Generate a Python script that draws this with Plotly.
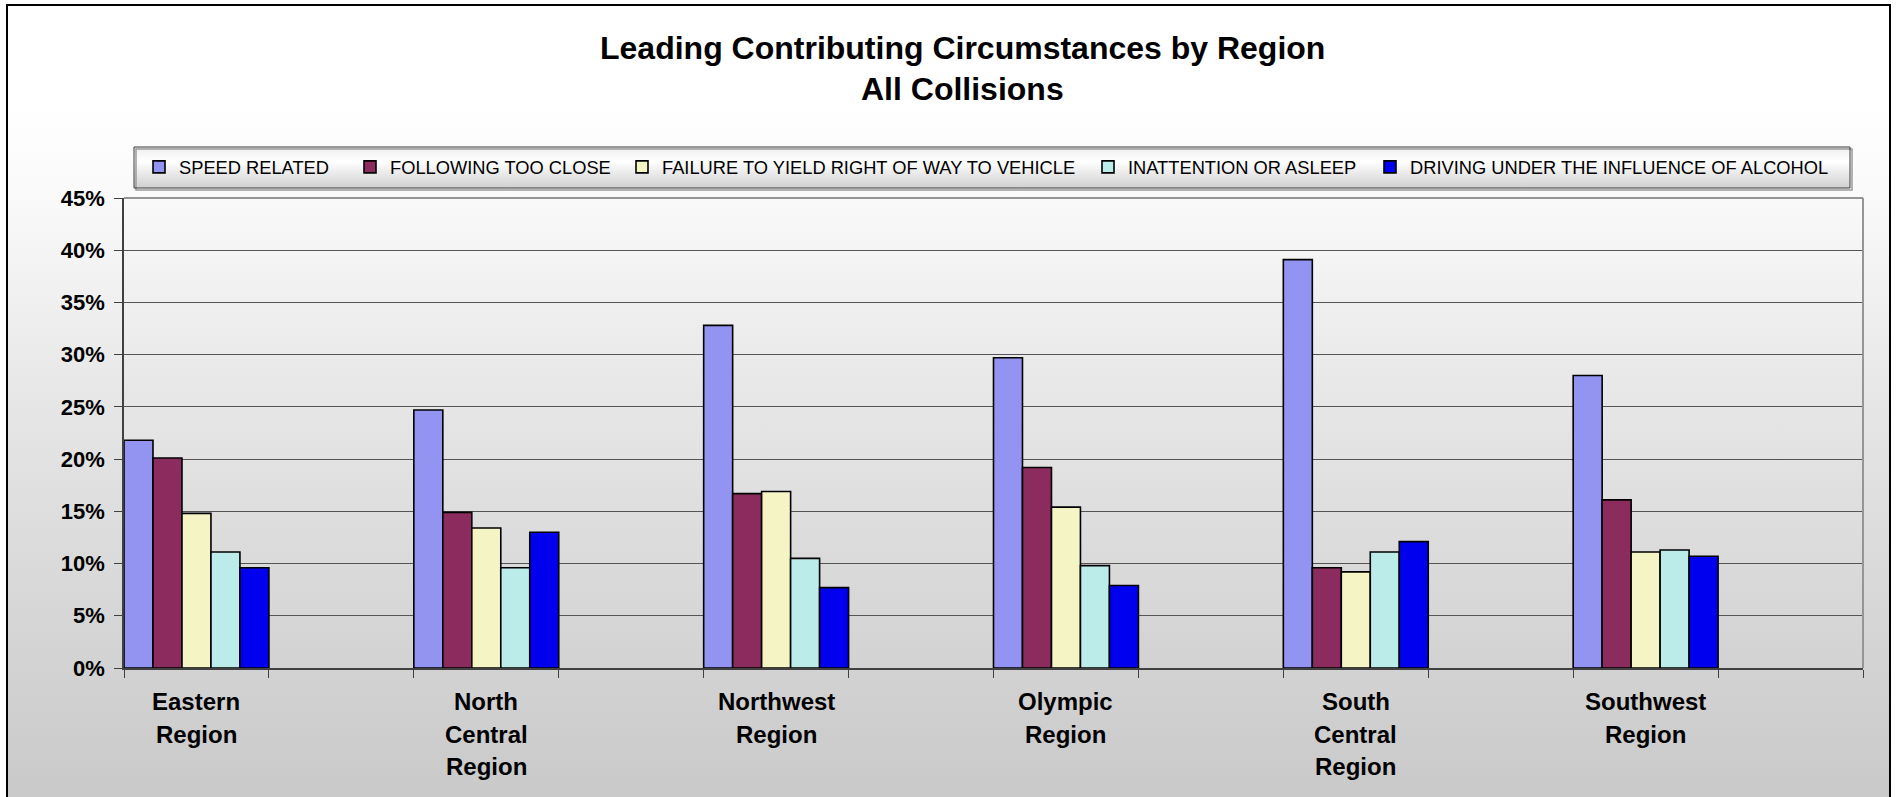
import base64
import plotly.graph_objects as go

# ---------------- data ----------------
region_labels = ["Eastern<br>Region", "North<br>Central<br>Region", "Northwest<br>Region",
                 "Olympic<br>Region", "South<br>Central<br>Region", "Southwest<br>Region"]
series_names = ["SPEED RELATED", "FOLLOWING TOO CLOSE", "FAILURE TO YIELD RIGHT OF WAY TO VEHICLE",
                "INATTENTION OR ASLEEP", "DRIVING UNDER THE INFLUENCE OF ALCOHOL"]
speed_related = [21.8, 24.7, 32.8, 29.7, 39.1, 28.0]
following_too_close = [20.1, 14.9, 16.7, 19.2, 9.6, 16.1]
failure_to_yield = [14.8, 13.4, 16.9, 15.4, 9.2, 11.1]
inattention_asleep = [11.1, 9.6, 10.5, 9.8, 11.1, 11.3]
dui_alcohol = [9.6, 13.0, 7.7, 7.9, 12.1, 10.7]
y_ticks = [0, 5, 10, 15, 20, 25, 30, 35, 40, 45]
y_tick_labels = ["0%", "5%", "10%", "15%", "20%", "25%", "30%", "35%", "40%", "45%"]

series_values = [speed_related, following_too_close, failure_to_yield, inattention_asleep, dui_alcohol]
colors = ["#9393f2", "#8c2c5e", "#f4f4c4", "#bcecea", "#0000ee"]

# ---------------- geometry helpers ----------------
W, H = 1896, 797
L, R, T, B = 124, 33, 198, 129
PW, PH = W - L - R, H - T - B


def px_x(p):
    return (p - L) / PW


def px_y(p):
    return (H - B - p) / PH


def svg_uri(svg):
    return "data:image/svg+xml;base64," + base64.b64encode(svg.encode()).decode()


bg_svg = """<svg xmlns='http://www.w3.org/2000/svg' width='100' height='100' preserveAspectRatio='none'>
<defs><linearGradient id='g' x1='0' y1='0' x2='0' y2='1'>
<stop offset='0' stop-color='#ffffff'/><stop offset='0.12' stop-color='#ffffff'/>
<stop offset='0.25' stop-color='#f9f9f9'/><stop offset='0.5' stop-color='#e6e6e6'/>
<stop offset='0.84' stop-color='#d2d2d2'/><stop offset='1' stop-color='#c9c9c9'/>
</linearGradient></defs><rect width='100' height='100' fill='url(#g)'/></svg>"""

leg_svg = """<svg xmlns='http://www.w3.org/2000/svg' width='100' height='100' preserveAspectRatio='none'>
<defs><linearGradient id='g' x1='0' y1='0' x2='0' y2='1'>
<stop offset='0' stop-color='#eeeeee'/><stop offset='0.35' stop-color='#ffffff'/>
<stop offset='1' stop-color='#d0d0d0'/>
</linearGradient></defs><rect width='100' height='100' fill='url(#g)'/></svg>"""

fig = go.Figure()

x_pos = [2 * i for i in range(len(region_labels))]
legend_ids = ["legend", "legend2", "legend3", "legend4", "legend5"]
for name, vals, col, lg in zip(series_names, series_values, colors, legend_ids):
    fig.add_trace(go.Bar(
        x=x_pos, y=vals, name=name, legend=lg,
        marker=dict(color=col, line=dict(color="#000000", width=1.6)),
    ))

font_family = "Arial, Liberation Sans, sans-serif"

# legend placement (item left edges in pixels)
legend_sym_left = [158, 369, 641, 1107, 1389]
legend_layouts = {}
for lg, sx in zip(legend_ids, legend_sym_left):
    legend_layouts[lg] = dict(
        x=px_x(sx - 19), y=px_y(167), xanchor="left", yanchor="middle",
        orientation="h", bgcolor="rgba(0,0,0,0)", borderwidth=0,
        font=dict(family=font_family, size=18.3, color="#000000"),
        itemclick=False, itemdoubleclick=False,
    )

# category labels, one annotation per text line
annotations = [
    dict(text="<b>Leading Contributing Circumstances by Region</b>", xref="paper", yref="paper",
         x=px_x(962), y=px_y(47.5), xanchor="center", yanchor="middle", showarrow=False,
         font=dict(family=font_family, size=32, color="#000000")),
    dict(text="<b>All Collisions</b>", xref="paper", yref="paper",
         x=px_x(962), y=px_y(89), xanchor="center", yanchor="middle", showarrow=False,
         font=dict(family=font_family, size=32, color="#000000")),
]
for xp, lab in zip(x_pos, region_labels):
    for j, line in enumerate(lab.split("<br>")):
        annotations.append(dict(
            text="<b>" + line + "</b>", xref="x", yref="paper", x=xp, y=px_y(701.5 + 32.5 * j),
            xanchor="center", yanchor="middle", showarrow=False,
            font=dict(family=font_family, size=24, color="#000000")))

fig.update_layout(
    width=W, height=H,
    margin=dict(l=L, r=R, t=T, b=B, pad=0),
    paper_bgcolor="#ffffff",
    plot_bgcolor="rgba(0,0,0,0)",
    barmode="group", bargap=0.5, bargroupgap=0,
    showlegend=True,
    **legend_layouts,
    xaxis=dict(
        range=[-0.5, 11.5], tickmode="array", tickvals=x_pos, showticklabels=False,
        ticks="", showgrid=False, zeroline=False,
        showline=True, linecolor="#404040", linewidth=1.5,
        minor=dict(tick0=-0.5, dtick=1, ticks="outside", ticklen=8, tickcolor="#404040",
                   tickwidth=1, showgrid=False),
    ),
    yaxis=dict(
        range=[0, 45], tickmode="array", tickvals=y_ticks, ticktext=y_tick_labels,
        ticks="outside", ticklen=8, tickcolor="#404040", tickwidth=1,
        showgrid=True, gridcolor="#555555", gridwidth=1, zeroline=False,
        showline=True, linecolor="#404040", linewidth=1.5,
        tickfont=dict(family=font_family, size=22, color="#000000", weight="bold"),
        ticklabelstandoff=5,
    ),
    images=[
        dict(source=svg_uri(bg_svg), xref="paper", yref="paper",
             x=px_x(7), y=px_y(5), sizex=(1890 - 7) / PW, sizey=(800 - 5) / PH,
             xanchor="left", yanchor="top", sizing="stretch", layer="below"),
        dict(source=svg_uri(leg_svg), xref="paper", yref="paper",
             x=px_x(134), y=px_y(147), sizex=(1850 - 134) / PW, sizey=(188 - 147) / PH,
             xanchor="left", yanchor="top", sizing="stretch", layer="below"),
    ],
    shapes=[
        dict(type="rect", xref="paper", yref="paper", x0=px_x(7), x1=px_x(1890),
             y0=px_y(805), y1=px_y(5), line=dict(color="#000000", width=2), fillcolor="rgba(0,0,0,0)",
             layer="above"),
        dict(type="rect", xref="paper", yref="paper", x0=px_x(136), x1=px_x(1852),
             y0=px_y(190), y1=px_y(149), line=dict(color="#9a9a9a", width=1.5),
             fillcolor="rgba(0,0,0,0)", layer="below"),
        dict(type="rect", xref="paper", yref="paper", x0=px_x(134), x1=px_x(1850),
             y0=px_y(188), y1=px_y(147), line=dict(color="#3a3a3a", width=1),
             fillcolor="rgba(0,0,0,0)", layer="below"),
        dict(type="line", xref="paper", yref="paper", x0=1, x1=1, y0=0, y1=1,
             line=dict(color="#959595", width=2)),
        dict(type="line", xref="paper", yref="paper", x0=0, x1=1, y0=1, y1=1,
             line=dict(color="#959595", width=2)),
    ],
    annotations=annotations,
)

fig.write_html("out.html", config={"displayModeBar": False})
